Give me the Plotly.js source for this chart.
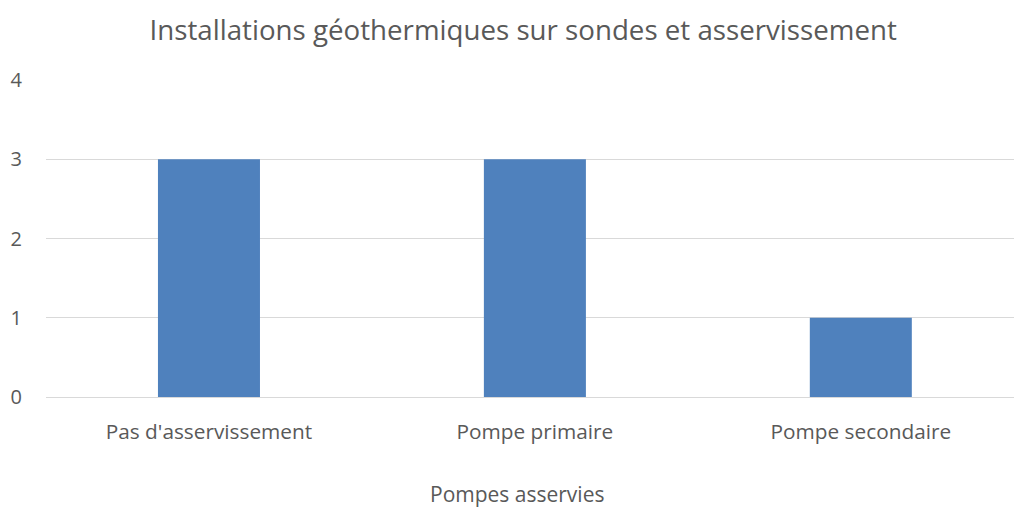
<!DOCTYPE html>
<html><head><meta charset="utf-8">
<script src="https://cdn.plot.ly/plotly-3.0.1.min.js"></script>
<style>html,body{margin:0;padding:0;background:#fff}#c{width:1014px;height:507px}</style>
</head><body><div id="c"></div>
<script>
const categories = ["Pas d'asservissement", "Pompe primaire", "Pompe secondaire"];
const values = [3, 3, 1];
const yTicks = [0, 1, 2, 3, 4];

const FONT = "Open Sans, sans-serif";
Plotly.newPlot('c', [{
  type: 'bar', x: categories, y: values,
  marker: {color: '#4F81BD'}, width: 0.313, hoverinfo: 'none'
}], {
  width: 1014, height: 507,
  margin: {l: 46, r: 0, t: 80, b: 109.5},
  paper_bgcolor: '#fff', plot_bgcolor: '#fff',
  font: {family: FONT, color: '#595959'},
  title: {text: 'Installations géothermiques sur sondes et asservissement',
    font: {size: 27.7, color: '#595959', family: FONT}, x: 0.516, xanchor: 'center', y: 0.94, yanchor: 'middle'},
  showlegend: false,
  xaxis: {type: 'category', range: [-0.5, 2.47], showgrid: false, zeroline: false, showline: false,
    ticks: '', tickfont: {size: 20.8, color: '#595959'}, ticklabelstandoff: 20},
  yaxis: {range: [0, 4], tickvals: yTicks, ticktext: yTicks.map(String), showgrid: true, gridcolor: '#D9D9D9', gridwidth: 1,
    zeroline: true, zerolinecolor: '#D9D9D9', zerolinewidth: 1, showline: false, ticks: '',
    tickfont: {size: 20, color: '#595959'}, ticklabelstandoff: 23},
  annotations: [{text: 'Pompes asservies', xref: 'paper', yref: 'paper', x: 0.487, y: -0.307,
    xanchor: 'center', yanchor: 'middle', showarrow: false, font: {size: 21, color: '#595959', family: FONT}}]
}, {staticPlot: true});
</script></body></html>
